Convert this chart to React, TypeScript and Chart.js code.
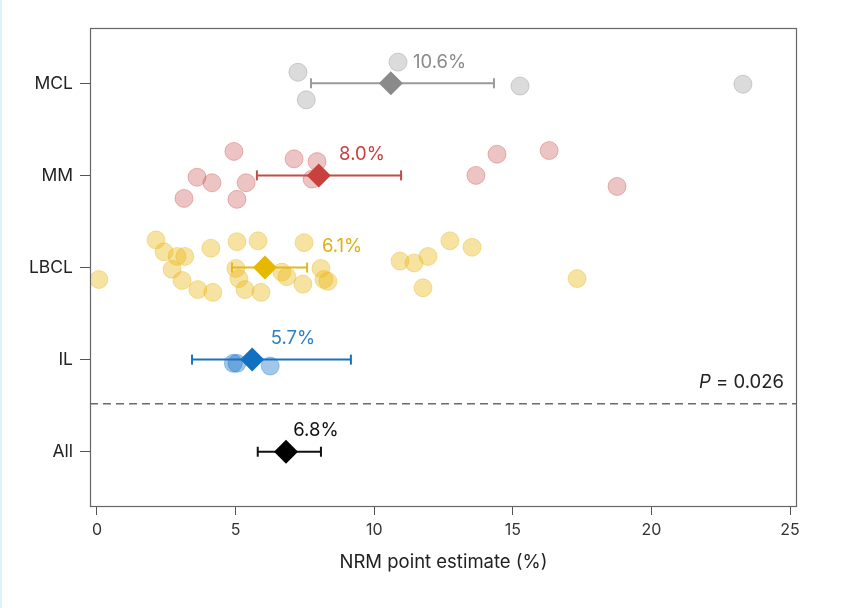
import React, { useEffect, useRef } from 'react';
import { Chart, registerables } from 'chart.js';

Chart.register(...registerables);

// ---- Data ----
const categories = ['All', 'IL', 'LBCL', 'MM', 'MCL'];
const estimates = [6.82, 5.6, 6.06, 8.0, 10.6];
const ciLower = [5.8, 3.43, 4.87, 5.77, 7.72];
const ciUpper = [8.08, 9.16, 7.58, 10.97, 14.32];
const estimateLabels = ['6.8%', '5.7%', '6.1%', '8.0%', '10.6%'];
const labelX = [7.9, 7.07, 8.84, 9.56, 12.36];
const xTicks = [0, 5, 10, 15, 20, 25];
const dividerY = 0.52;
const pValue = '0.026';

const mclValues = [7.25, 7.55, 10.86, 15.26, 23.3];
const mclJitter = [0.12, -0.18, 0.23, -0.03, -0.01];

const mmValues = [4.94, 3.61, 4.15, 5.38, 3.14, 5.05, 7.11, 7.94, 7.76, 13.67, 14.43, 16.31, 18.76];
const mmJitter = [0.26, -0.02, -0.08, -0.08, -0.25, -0.26, 0.18, 0.15, -0.04, 0.0, 0.23, 0.27, -0.12];

const lbclValues = [2.13, 2.42, 2.89, 3.17, 4.11, 5.05, 5.81, 7.47, 0.07, 2.71, 3.07, 3.64, 4.18, 5.01, 5.12, 5.34, 5.92, 6.67, 6.85, 7.43, 8.08, 8.19, 8.33, 10.93, 11.44, 11.94, 12.73, 13.53, 11.76, 17.32];
const lbclJitter = [0.3, 0.17, 0.12, 0.12, 0.21, 0.28, 0.29, 0.27, -0.13, -0.02, -0.14, -0.24, -0.27, -0.01, -0.12, -0.24, -0.27, -0.05, -0.1, -0.18, -0.01, -0.13, -0.15, 0.07, 0.05, 0.12, 0.29, 0.22, -0.22, -0.12];

const ilValues = [4.92, 5.05, 6.25];
const ilJitter = [-0.04, -0.04, -0.07];

// ---- Styles ----
const FONT = 'Inter, "DejaVu Sans", sans-serif';
const diamondColors = ['#000000', '#1270c0', '#e6b800', '#c9413d', '#8a8a8a'];
const barColors = ['#111111', '#1a72be', '#e3b820', '#c44c48', '#9a9a9a'];
const labelColors = ['#111111', '#2a80c8', '#e0b010', '#c9413d', '#8a8a8a'];

const groups = [
  { idx: 4, values: mclValues, jitter: mclJitter, fill: 'rgba(190,190,190,0.55)', border: 'rgba(175,175,175,0.6)' },
  { idx: 3, values: mmValues, jitter: mmJitter, fill: 'rgba(200,70,70,0.32)', border: 'rgba(200,70,70,0.35)' },
  { idx: 2, values: lbclValues, jitter: lbclJitter, fill: 'rgba(235,185,20,0.4)', border: 'rgba(225,175,20,0.35)' },
  { idx: 1, values: ilValues, jitter: ilJitter, fill: 'rgba(25,115,200,0.4)', border: 'rgba(25,115,200,0.35)' },
];

const LABEL_SIZE = 18.5;

const annotationPlugin = {
  id: 'annotations',
  afterDatasetsDraw(chart: any) {
    const { ctx, chartArea, scales } = chart;
    const x = scales.x;
    const y = scales.y;
    ctx.save();
    // dashed divider
    const yd = y.getPixelForValue(dividerY);
    ctx.setLineDash([8, 5]);
    ctx.strokeStyle = '#6b6b6b';
    ctx.lineWidth = 1.5;
    ctx.beginPath();
    ctx.moveTo(chartArea.left, yd);
    ctx.lineTo(chartArea.right, yd);
    ctx.stroke();
    ctx.setLineDash([]);

    // estimate labels
    ctx.font = `${LABEL_SIZE}px ${FONT}`;
    ctx.textAlign = 'center';
    ctx.textBaseline = 'middle';
    estimateLabels.forEach((t, i) => {
      ctx.fillStyle = labelColors[i];
      ctx.fillText(t, x.getPixelForValue(labelX[i]), y.getPixelForValue(i) - 21);
    });

    // P value
    ctx.textAlign = 'left';
    ctx.fillStyle = '#222';
    ctx.font = `italic ${LABEL_SIZE}px ${FONT}`;
    const w1 = ctx.measureText('P').width;
    ctx.font = `${LABEL_SIZE}px ${FONT}`;
    const rest = ` = ${pValue}`;
    const w2 = ctx.measureText(rest).width;
    const xr = chartArea.right - 13;
    const yp = yd - 21;
    ctx.font = `italic ${LABEL_SIZE}px ${FONT}`;
    ctx.fillText('P', xr - w1 - w2, yp);
    ctx.font = `${LABEL_SIZE}px ${FONT}`;
    ctx.fillText(rest, xr - w2, yp);

    // frame
    ctx.strokeStyle = '#666666';
    ctx.lineWidth = 1.2;
    ctx.strokeRect(chartArea.left + 0.5, chartArea.top + 0.5, chartArea.width - 1, chartArea.height - 1);
    ctx.restore();
  },
};

export default function App() {
  const canvasRef = useRef<HTMLCanvasElement | null>(null);

  useEffect(() => {
    document.body.style.margin = '0';
    document.body.style.overflow = 'hidden';
    const canvas = canvasRef.current;
    if (!canvas) return;

    const datasets: any[] = [];
    // diamonds (top-most)
    datasets.push({
      type: 'scatter',
      order: 0,
      data: estimates.map((v, i) => ({ x: v, y: i })),
      pointStyle: 'rectRot',
      pointRadius: 12,
      pointBackgroundColor: diamondColors,
      pointBorderColor: diamondColors,
      pointBorderWidth: 0,
    });
    // error bars
    categories.forEach((_, i) => {
      datasets.push({
        type: 'line',
        order: 1,
        data: [
          { x: ciLower[i], y: i },
          { x: ciUpper[i], y: i },
        ],
        showLine: true,
        borderColor: barColors[i],
        borderWidth: 2,
        pointStyle: 'line',
        pointRotation: 90,
        pointRadius: 5,
        pointBorderWidth: 2,
        pointBorderColor: barColors[i],
        fill: false,
      });
    });
    // jittered points
    groups.forEach((g) => {
      datasets.push({
        type: 'scatter',
        order: 2,
        data: g.values.map((v, k) => ({ x: v, y: g.idx + g.jitter[k] })),
        pointStyle: 'circle',
        pointRadius: 9,
        pointBackgroundColor: g.fill,
        pointBorderColor: g.border,
        pointBorderWidth: 1,
      });
    });

    const chart = new Chart(canvas, {
      type: 'scatter',
      data: { datasets },
      options: {
        animation: false,
        responsive: false,
        maintainAspectRatio: false,
        layout: { padding: { left: 0, top: 28, right: 46, bottom: 0 } },
        plugins: { legend: { display: false }, tooltip: { enabled: false } },
        scales: {
          x: {
            type: 'linear',
            min: -0.25,
            max: 25.25,
            afterBuildTicks: (s: any) => {
              s.ticks = xTicks.map((v) => ({ value: v }));
            },
            afterFit: (s: any) => {
              s.height = 101;
            },
            border: { display: false },
            grid: { display: true, drawOnChartArea: false, drawTicks: true, tickLength: 8, tickColor: '#555', tickWidth: 1 },
            ticks: { color: '#333', font: { family: FONT, size: 16 }, padding: 6, maxRotation: 0 },
            title: {
              display: true,
              text: 'NRM point estimate (%)',
              color: '#222',
              font: { family: FONT, size: LABEL_SIZE },
              padding: { top: 0, bottom: 34 },
            },
          },
          y: {
            type: 'linear',
            min: -0.6,
            max: 4.6,
            afterBuildTicks: (s: any) => {
              s.ticks = categories.map((_, i) => ({ value: i }));
            },
            afterFit: (s: any) => {
              s.width = 90;
            },
            border: { display: false },
            grid: { display: true, drawOnChartArea: false, drawTicks: true, tickLength: 10, tickColor: '#555', tickWidth: 1 },
            ticks: {
              color: '#222',
              font: { family: FONT, size: 17.5 },
              padding: 7,
              callback: (v: any) => categories[Math.round(Number(v))] ?? '',
            },
          },
        },
      },
      plugins: [annotationPlugin],
    } as any);

    return () => chart.destroy();
  }, []);

  return (
    <div style={{ position: 'relative', width: 843, height: 608, background: '#fff' }}>
      <canvas ref={canvasRef} width={843} height={608} style={{ display: 'block', width: 843, height: 608 }} />
      <div style={{ position: 'absolute', left: 0, top: 0, width: 2, height: 608, background: '#dcf1f9' }} />
    </div>
  );
}
